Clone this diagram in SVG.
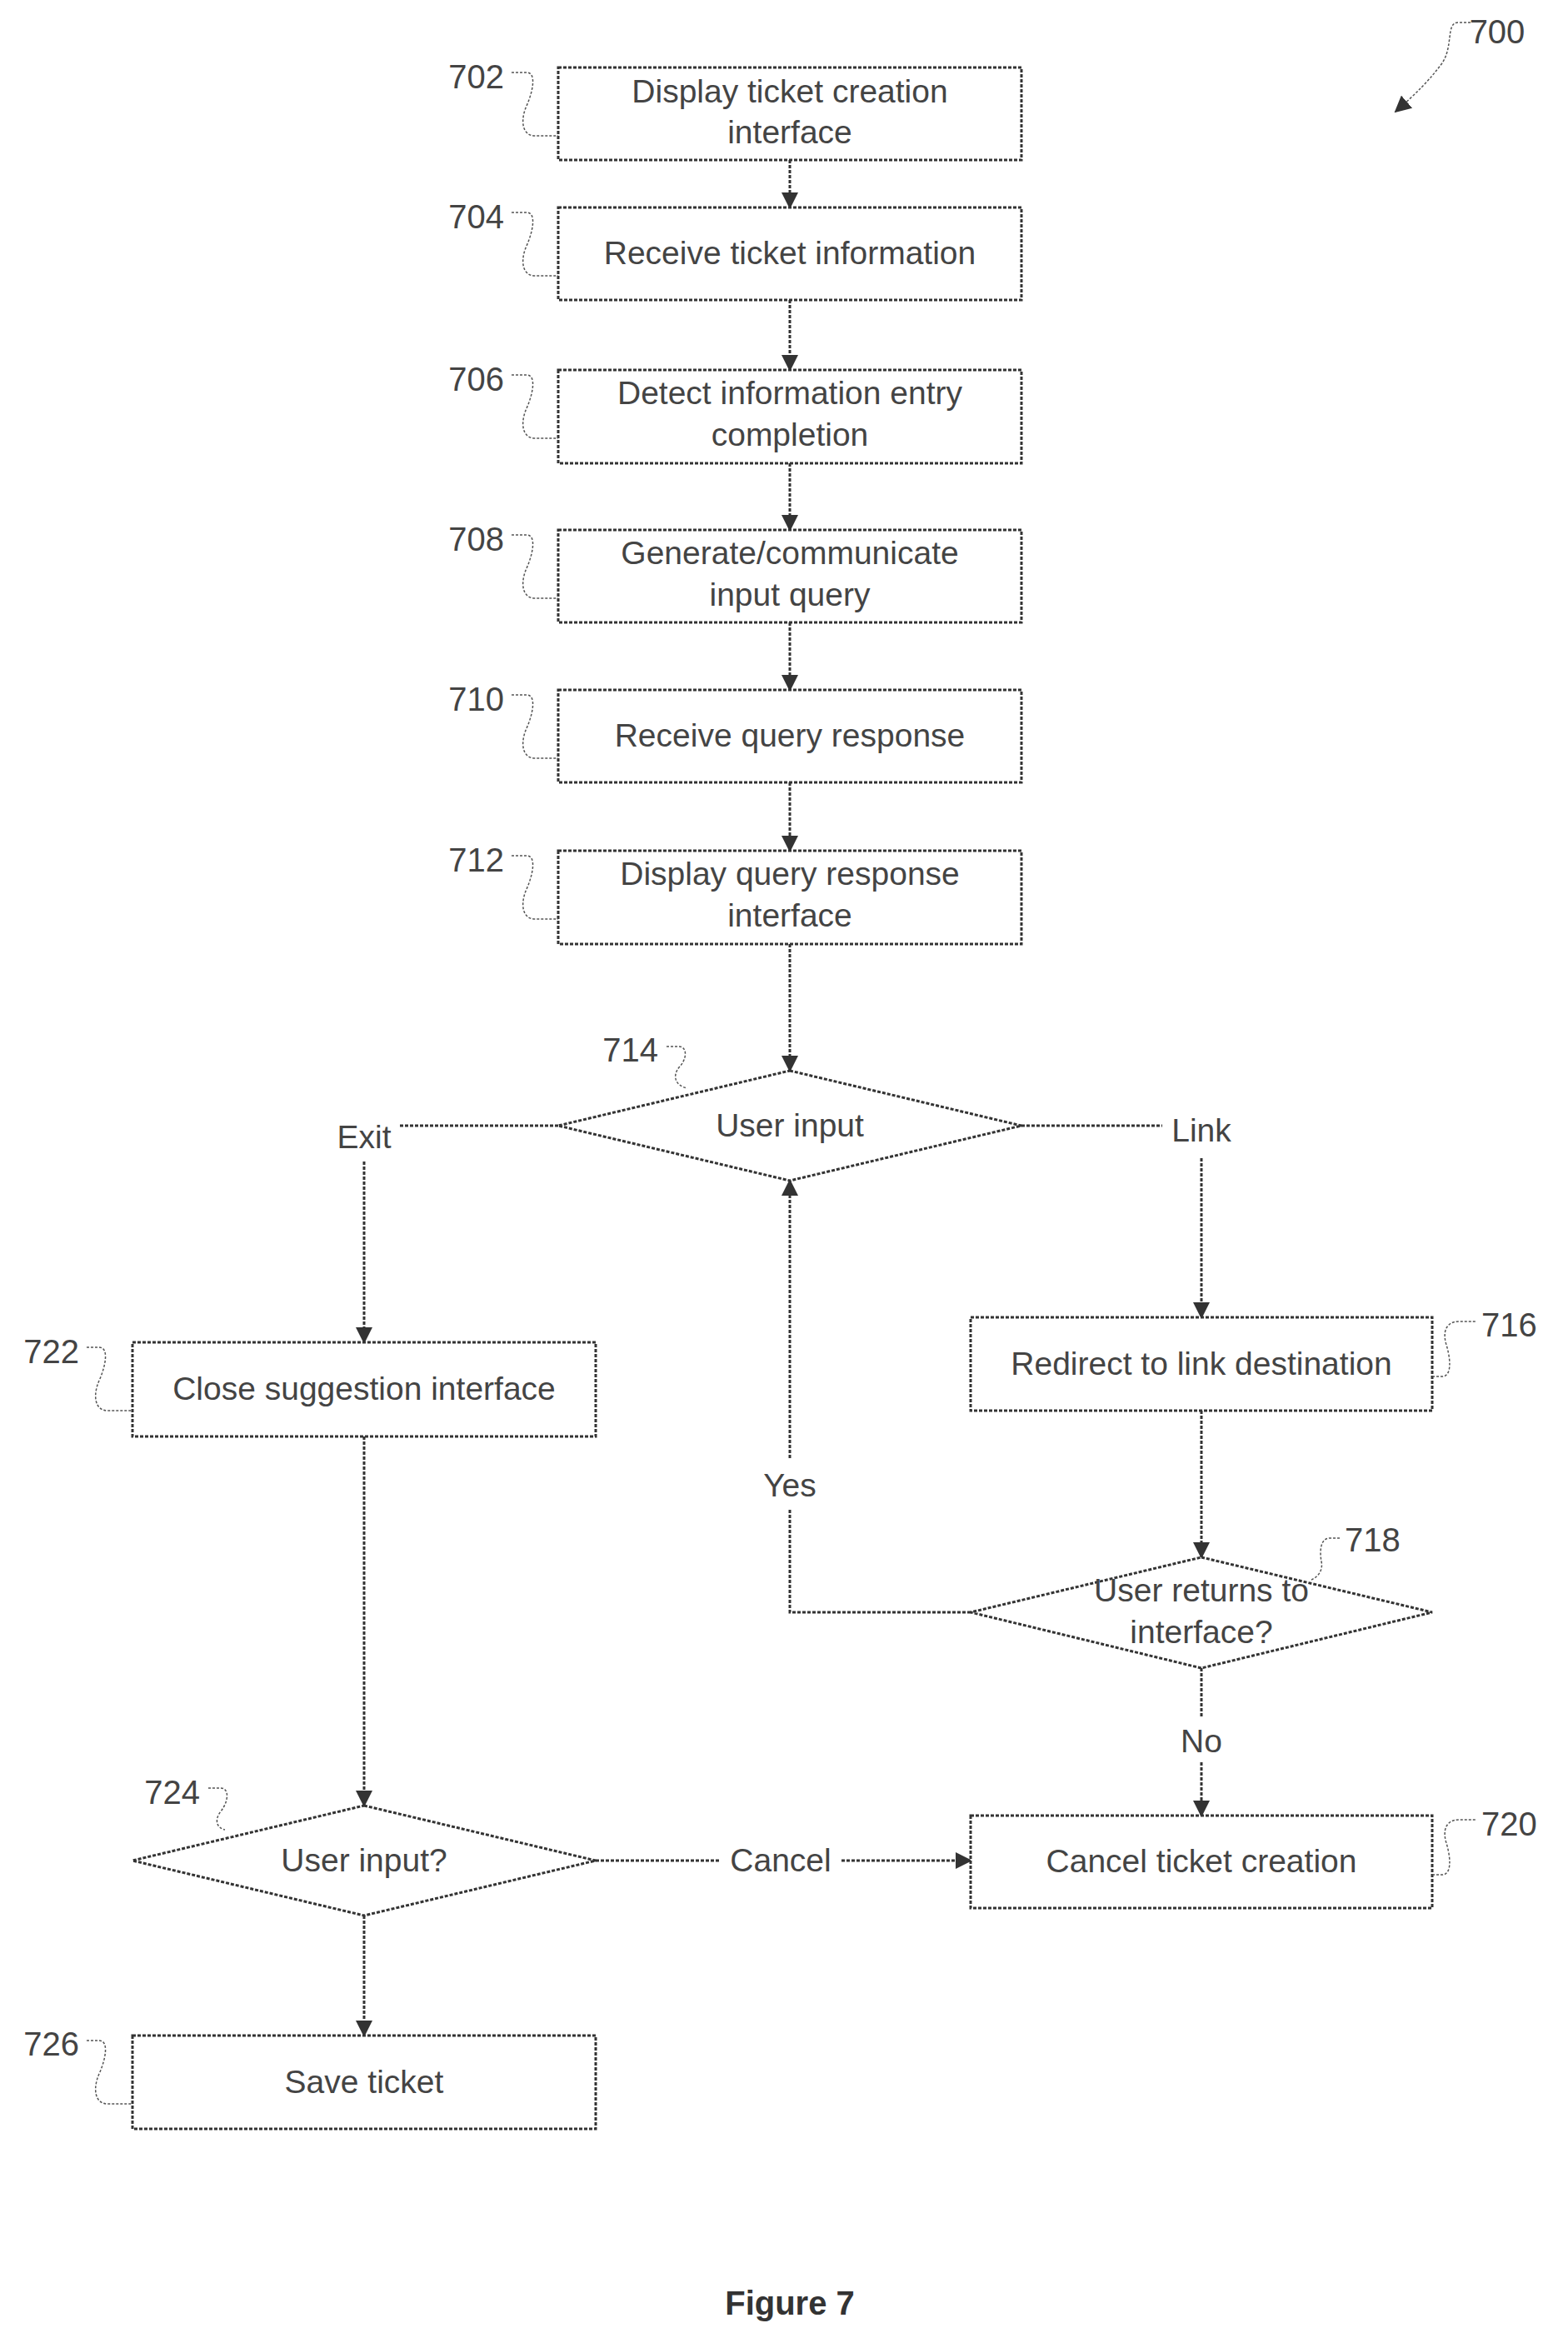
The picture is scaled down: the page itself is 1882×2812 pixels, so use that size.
<svg xmlns="http://www.w3.org/2000/svg" width="1882" height="2812" viewBox="0 0 1882 2812">
<style>
.b{fill:#fff;stroke:#333;stroke-width:3;stroke-dasharray:4,2}
.c{fill:none;stroke:#333;stroke-width:3;stroke-dasharray:4,2}
.s{fill:none;stroke:#555;stroke-width:1.5;stroke-dasharray:3,2}
text{font-family:"Liberation Sans",Arial,sans-serif;font-size:39px;fill:#444}
.t{text-anchor:middle}
.n{font-size:40px}
</style>
<defs>
<marker id="a2" markerWidth="20" markerHeight="20" refX="18" refY="10" orient="auto" markerUnits="userSpaceOnUse" viewBox="0 0 20 20"><path d="M0,0 L20,10 L0,20 z" fill="#333"/></marker></defs>
<g id="connectors">
<path class="c" marker-end="url(#a2)" d="M948,192 V249"/>
<path class="c" marker-end="url(#a2)" d="M948,360 V444"/>
<path class="c" marker-end="url(#a2)" d="M948,556 V636"/>
<path class="c" marker-end="url(#a2)" d="M948,747 V828"/>
<path class="c" marker-end="url(#a2)" d="M948,939 V1021"/>
<path class="c" marker-end="url(#a2)" d="M948,1133 V1285"/>
<path class="c" d="M670,1351 H480"/>
<path class="c" marker-end="url(#a2)" d="M437,1394 V1611"/>
<path class="c" d="M1226,1351 H1395"/>
<path class="c" marker-end="url(#a2)" d="M1442,1390 V1581"/>
<path class="c" marker-end="url(#a2)" d="M1442,1693 V1869"/>
<path class="c" d="M1165,1935 H948 V1812"/>
<path class="c" marker-end="url(#a2)" d="M948,1750 V1417"/>
<path class="c" d="M1442,2002 V2060"/>
<path class="c" marker-end="url(#a2)" d="M1442,2115 V2179"/>
<path class="c" marker-end="url(#a2)" d="M437,1724 V2167"/>
<path class="c" d="M715,2233 H865"/>
<path class="c" marker-end="url(#a2)" d="M1010,2233 H1165"/>
<path class="c" marker-end="url(#a2)" d="M437,2299 V2443"/>
<text x="437" y="1378" class="t">Exit</text>
<text x="1442" y="1370" class="t">Link</text>
<text x="948" y="1796" class="t">Yes</text>
<text x="1442" y="2103" class="t">No</text>
<text x="937" y="2246" class="t">Cancel</text>
</g>
<g id="n700"><text x="1797" y="52" class="t n">700</text><path class="s" marker-end="url(#a2)" d="M1765,27 h-15 c-15,0 -5,30 -20,50 c-15,20 -30,35 -55,57" stroke-width="3"/></g>
<g id="n702"><rect class="b" x="670" y="81" width="556" height="111"/><text x="948" y="123" class="t">Display ticket creation</text><text x="948" y="172" class="t">interface</text><text x="605" y="106" text-anchor="end" class="n">702</text><path class="s" d="M614,87 h18 c12,0 8,22 0,40 c-8,18 -5,36 10,36 h28"/></g>
<g id="n704"><rect class="b" x="670" y="249" width="556" height="111"/><text x="948" y="317" class="t">Receive ticket information</text><text x="605" y="274" text-anchor="end" class="n">704</text><path class="s" d="M614,255 h18 c12,0 8,22 0,40 c-8,18 -5,36 10,36 h28"/></g>
<g id="n706"><rect class="b" x="670" y="444" width="556" height="112"/><text x="948" y="485" class="t">Detect information entry</text><text x="948" y="535" class="t">completion</text><text x="605" y="469" text-anchor="end" class="n">706</text><path class="s" d="M614,450 h18 c12,0 8,22 0,40 c-8,18 -5,36 10,36 h28"/></g>
<g id="n708"><rect class="b" x="670" y="636" width="556" height="111"/><text x="948" y="677" class="t">Generate/communicate</text><text x="948" y="727" class="t">input query</text><text x="605" y="661" text-anchor="end" class="n">708</text><path class="s" d="M614,642 h18 c12,0 8,22 0,40 c-8,18 -5,36 10,36 h28"/></g>
<g id="n710"><rect class="b" x="670" y="828" width="556" height="111"/><text x="948" y="896" class="t">Receive query response</text><text x="605" y="853" text-anchor="end" class="n">710</text><path class="s" d="M614,834 h18 c12,0 8,22 0,40 c-8,18 -5,36 10,36 h28"/></g>
<g id="n712"><rect class="b" x="670" y="1021" width="556" height="112"/><text x="948" y="1062" class="t">Display query response</text><text x="948" y="1112" class="t">interface</text><text x="605" y="1046" text-anchor="end" class="n">712</text><path class="s" d="M614,1027 h18 c12,0 8,22 0,40 c-8,18 -5,36 10,36 h28"/></g>
<g id="n714"><path class="b" d="M948,1285 L1226,1351 L948,1417 L670,1351 Z"/><text x="948" y="1364" class="t">User input</text><text x="790" y="1274" text-anchor="end" class="n">714</text><path class="s" d="M800,1256 h15 c10,0 10,15 0,25 c-8,10 -5,22 10,25"/></g>
<g id="n716"><rect class="b" x="1165" y="1581" width="554" height="112"/><text x="1778" y="1604" text-anchor="start" class="n">716</text><path class="s" d="M1719,1652 h12 c12,0 10,-22 5,-38 c-5,-16 0,-28 15,-28 h20"/><text x="1442" y="1650" class="t">Redirect to link destination</text></g>
<g id="n718"><path class="b" d="M1442,1869 L1719,1935 L1442,2002 L1165,1935 Z"/><text x="1442" y="1922" class="t">User returns to</text><text x="1442" y="1972" class="t">interface?</text><text x="1614" y="1862" text-anchor="start" class="n">718</text><path class="s" d="M1608,1846 h-12 c-12,0 -12,18 -10,28 c2,10 -3,18 -12,22"/></g>
<g id="n720"><rect class="b" x="1165" y="2179" width="554" height="111"/><text x="1442" y="2247" class="t">Cancel ticket creation</text><text x="1778" y="2203" text-anchor="start" class="n">720</text><path class="s" d="M1719,2250 h12 c12,0 10,-22 5,-38 c-5,-16 0,-28 15,-28 h20"/></g>
<g id="n722"><rect class="b" x="159" y="1611" width="556" height="113"/><text x="437" y="1680" class="t">Close suggestion interface</text><text x="95" y="1636" text-anchor="end" class="n">722</text><path class="s" d="M104,1617 h15 c12,0 8,22 0,40 c-8,18 -5,36 10,36 h30"/></g>
<g id="n724"><path class="b" d="M437,2167 L715,2233 L437,2299 L159,2233 Z"/><text x="437" y="2246" class="t">User input?</text><text x="240" y="2165" text-anchor="end" class="n">724</text><path class="s" d="M250,2146 h15 c10,0 10,15 0,28 c-8,10 -5,20 5,22"/></g>
<g id="n726"><rect class="b" x="159" y="2443" width="556" height="112"/><text x="437" y="2512" class="t">Save ticket</text><text x="95" y="2467" text-anchor="end" class="n">726</text><path class="s" d="M104,2449 h15 c12,0 8,22 0,40 c-8,18 -5,36 10,36 h30"/></g>
<text x="948" y="2778" class="t" style="font-weight:bold;font-size:40px;fill:#333">Figure 7</text>
</svg>
